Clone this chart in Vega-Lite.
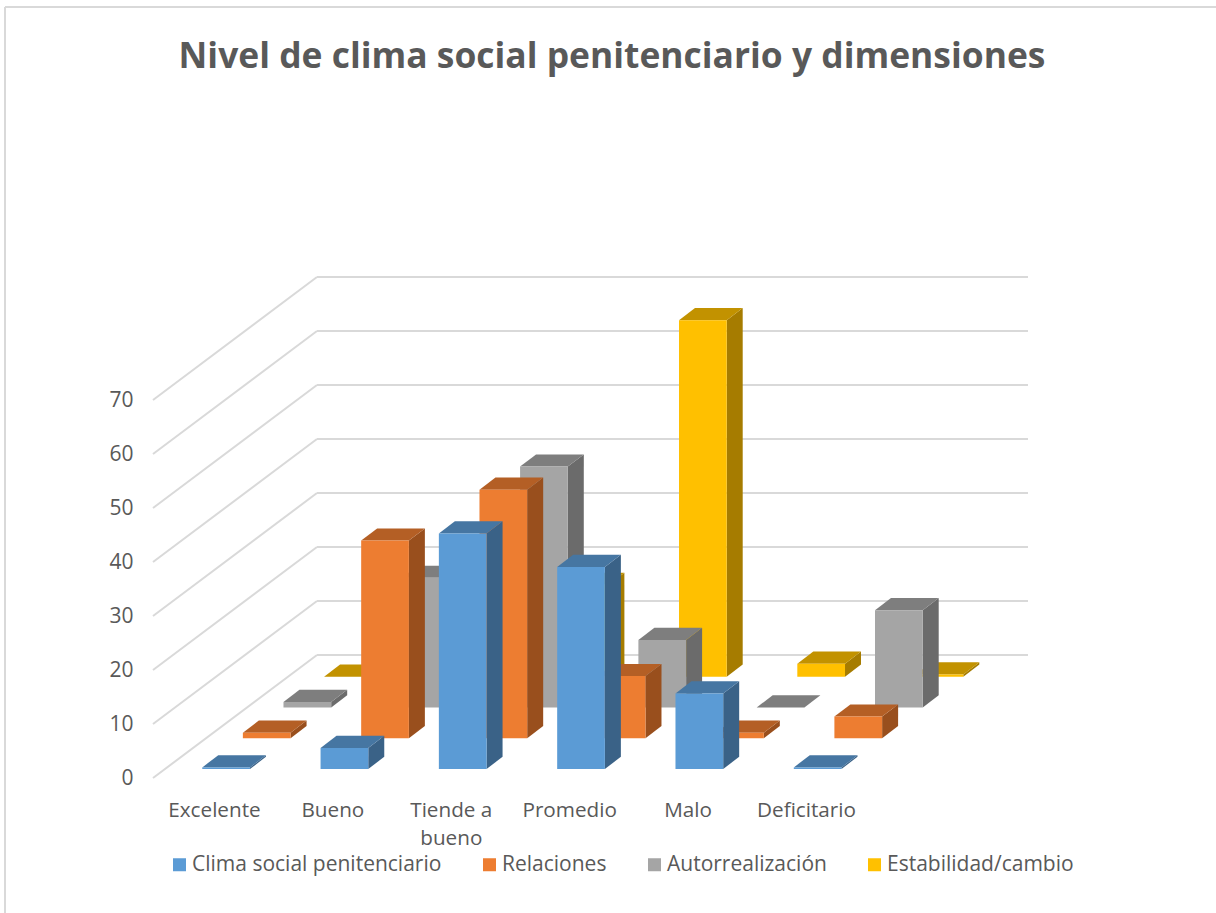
{
"$schema":"https://vega.github.io/schema/vega-lite/v6.json",
"width":1211,"height":906,"autosize":{"type":"none"},
"padding":{"left":5,"top":7,"right":0,"bottom":0},
"background":"white",
"config":{"view":{"stroke":null}},
"title":{"text":"Nivel de clima social penitenciario y dimensiones","font":"Open Sans","fontSize":35.4,"fontWeight":"bold","color":"#595959","anchor":"middle","dx":1.5,"offset":-69},
"datasets":{
"ticks":[{"v":0},{"v":10},{"v":20},{"v":30},{"v":40},{"v":50},{"v":60},{"v":70}],
"barras":[
{"categoria":"Excelente","serie":"Clima social penitenciario","valor":0.3},
{"categoria":"Bueno","serie":"Clima social penitenciario","valor":3.9},
{"categoria":"Tiende a bueno","serie":"Clima social penitenciario","valor":43.6},
{"categoria":"Promedio","serie":"Clima social penitenciario","valor":37.4},
{"categoria":"Malo","serie":"Clima social penitenciario","valor":14.0},
{"categoria":"Deficitario","serie":"Clima social penitenciario","valor":0.3},
{"categoria":"Excelente","serie":"Relaciones","valor":1},
{"categoria":"Bueno","serie":"Relaciones","valor":36.6},
{"categoria":"Tiende a bueno","serie":"Relaciones","valor":46},
{"categoria":"Promedio","serie":"Relaciones","valor":11.5},
{"categoria":"Malo","serie":"Relaciones","valor":1},
{"categoria":"Deficitario","serie":"Relaciones","valor":4},
{"categoria":"Excelente","serie":"Autorrealización","valor":1},
{"categoria":"Bueno","serie":"Autorrealización","valor":24},
{"categoria":"Tiende a bueno","serie":"Autorrealización","valor":44.6},
{"categoria":"Promedio","serie":"Autorrealización","valor":12.5},
{"categoria":"Malo","serie":"Autorrealización","valor":0},
{"categoria":"Deficitario","serie":"Autorrealización","valor":18},
{"categoria":"Excelente","serie":"Estabilidad/cambio","valor":0},
{"categoria":"Bueno","serie":"Estabilidad/cambio","valor":15},
{"categoria":"Tiende a bueno","serie":"Estabilidad/cambio","valor":17},
{"categoria":"Promedio","serie":"Estabilidad/cambio","valor":66},
{"categoria":"Malo","serie":"Estabilidad/cambio","valor":2.4},
{"categoria":"Deficitario","serie":"Estabilidad/cambio","valor":0.4}
]},
"layer":[
{"data":{"name":"ticks"},"mark":{"type":"rule","color":"#d9d9d9","strokeWidth":2},
 "transform":[{"calculate":"datum.v+22.78","as":"vb"}],
 "encoding":{
  "x":{"datum":-0.515,"type":"quantitative","scale":{"domain":[-1.765,8.463],"nice":false,"zero":false},
   "axis":{"title":null,"orient":"bottom","values":[0,1,2,3,4,5],"offset":-113,"domain":false,"ticks":false,"grid":false,"labelPadding":0,"labelBaseline":"top","labelFont":"Open Sans","labelFontSize":20.7,"labelColor":"#595959","labelLineHeight":28,"labelOverlap":false,"labelFlush":false,"labelLimit":300,"labelExpr":"[['Excelente'],['Bueno'],['Tiende a','bueno'],['Promedio'],['Malo'],['Deficitario']][datum.value]"}},
  "x2":{"datum":0.87},
  "y":{"field":"v","type":"quantitative","scale":{"domain":[-25,142.78],"nice":false,"zero":false},
   "axis":{"title":null,"orient":"left","values":[0,10,20,30,40,50,60,70],"offset":-128,"domain":false,"ticks":false,"grid":false,"labelPadding":0,"labelFont":"Open Sans","labelFontSize":21,"labelColor":"#595959"}},
  "y2":{"field":"vb"}}},
{"data":{"name":"ticks"},"mark":{"type":"rule","color":"#d9d9d9","strokeWidth":2},
 "transform":[{"calculate":"datum.v+22.78","as":"vb"}],
 "encoding":{"x":{"datum":0.87,"type":"quantitative","axis":{"title":null}},"x2":{"datum":6.875},"y":{"field":"vb","type":"quantitative","axis":{"title":null}}}},
{"data":{"values":[{"borde":"superior"}]},"mark":{"type":"rule","color":"#d9d9d9","strokeWidth":2},"encoding":{"y":{"datum":142.78,"type":"quantitative","axis":{"title":null}}}},
{"data":{"values":[{"borde":"izquierdo"}]},"mark":{"type":"rule","color":"#d9d9d9","strokeWidth":2},"encoding":{"x":{"datum":-1.765,"type":"quantitative","axis":{"title":null}}}},
{"data":{"name":"barras"},
 "transform":[
  {"calculate":"indexof(['Excelente','Bueno','Tiende a bueno','Promedio','Malo','Deficitario'],datum.categoria)","as":"c"},
  {"calculate":"indexof(['Clima social penitenciario','Relaciones','Autorrealización','Estabilidad/cambio'],datum.serie)","as":"s"},
  {"calculate":"datum.c*0.9992-0.099+0.343*datum.s","as":"xl"},
  {"calculate":"datum.xl+0.403","as":"xr"},
  {"calculate":"1.667+5.7*datum.s","as":"yb"},
  {"calculate":"datum.yb+datum.valor","as":"yt"},
  {"fold":["xl","xr"],"as":["k","xx"]},
  {"calculate":"datum.k=='xl'?0:1","as":"f"},
  {"calculate":"datum.xr+0.135*datum.f","as":"sx"},
  {"calculate":"datum.yb+2.26*datum.f","as":"sy0"},
  {"calculate":"datum.yt+2.26*datum.f","as":"sy1"},
  {"calculate":"datum.xl+0.135*datum.f","as":"tx0"},
  {"calculate":"datum.xr+0.135*datum.f","as":"tx1"}
 ],
 "layer":[
  {"transform":[{"filter":"datum.s==3"}],"mark":{"type":"area","orient":"vertical","color":"#A67C00"},"encoding":{"x":{"field":"sx","type":"quantitative","axis":{"title":null}},"y":{"field":"sy0","type":"quantitative","axis":{"title":null},"stack":null},"y2":{"field":"sy1"},"detail":{"field":"c"}}},
  {"transform":[{"filter":"datum.s==3"}],"mark":{"type":"area","orient":"horizontal","color":"#C29200"},"encoding":{"y":{"field":"sy1","type":"quantitative","axis":{"title":null}},"x":{"field":"tx0","type":"quantitative","axis":{"title":null},"stack":null},"x2":{"field":"tx1"},"detail":{"field":"c"}}},
  {"transform":[{"filter":"datum.s==3 && datum.f==0"}],"mark":{"type":"rect"},"encoding":{"x":{"field":"xl","type":"quantitative","axis":{"title":null}},"x2":{"field":"xr"},"y":{"field":"yb","type":"quantitative","axis":{"title":null}},"y2":{"field":"yt"},"color":{"field":"serie","type":"nominal","scale":{"domain":["Clima social penitenciario","Relaciones","Autorrealización","Estabilidad/cambio"],"range":["#5B9BD5","#ED7D31","#A5A5A5","#FFC000"]},"legend":{"title":null,"orient":"none","legendX":164,"legendY":847,"direction":"horizontal","columns":4,"columnPadding":37,"symbolType":"square","symbolSize":169,"symbolStrokeWidth":0,"labelFont":"Open Sans","labelFontSize":21,"labelColor":"#595959","labelOffset":2,"labelLimit":400}}}},
  {"transform":[{"filter":"datum.s==2"}],"mark":{"type":"area","orient":"vertical","color":"#6B6B6B"},"encoding":{"x":{"field":"sx","type":"quantitative","axis":{"title":null}},"y":{"field":"sy0","type":"quantitative","axis":{"title":null},"stack":null},"y2":{"field":"sy1"},"detail":{"field":"c"}}},
  {"transform":[{"filter":"datum.s==2"}],"mark":{"type":"area","orient":"horizontal","color":"#7E7E7E"},"encoding":{"y":{"field":"sy1","type":"quantitative","axis":{"title":null}},"x":{"field":"tx0","type":"quantitative","axis":{"title":null},"stack":null},"x2":{"field":"tx1"},"detail":{"field":"c"}}},
  {"transform":[{"filter":"datum.s==2 && datum.f==0"}],"mark":{"type":"rect"},"encoding":{"x":{"field":"xl","type":"quantitative","axis":{"title":null}},"x2":{"field":"xr"},"y":{"field":"yb","type":"quantitative","axis":{"title":null}},"y2":{"field":"yt"},"color":{"field":"serie","type":"nominal"}}},
  {"transform":[{"filter":"datum.s==1"}],"mark":{"type":"area","orient":"vertical","color":"#994F1D"},"encoding":{"x":{"field":"sx","type":"quantitative","axis":{"title":null}},"y":{"field":"sy0","type":"quantitative","axis":{"title":null},"stack":null},"y2":{"field":"sy1"},"detail":{"field":"c"}}},
  {"transform":[{"filter":"datum.s==1"}],"mark":{"type":"area","orient":"horizontal","color":"#B45F25"},"encoding":{"y":{"field":"sy1","type":"quantitative","axis":{"title":null}},"x":{"field":"tx0","type":"quantitative","axis":{"title":null},"stack":null},"x2":{"field":"tx1"},"detail":{"field":"c"}}},
  {"transform":[{"filter":"datum.s==1 && datum.f==0"}],"mark":{"type":"rect"},"encoding":{"x":{"field":"xl","type":"quantitative","axis":{"title":null}},"x2":{"field":"xr"},"y":{"field":"yb","type":"quantitative","axis":{"title":null}},"y2":{"field":"yt"},"color":{"field":"serie","type":"nominal"}}},
  {"transform":[{"filter":"datum.s==0"}],"mark":{"type":"area","orient":"vertical","color":"#3A6287"},"encoding":{"x":{"field":"sx","type":"quantitative","axis":{"title":null}},"y":{"field":"sy0","type":"quantitative","axis":{"title":null},"stack":null},"y2":{"field":"sy1"},"detail":{"field":"c"}}},
  {"transform":[{"filter":"datum.s==0"}],"mark":{"type":"area","orient":"horizontal","color":"#4676A2"},"encoding":{"y":{"field":"sy1","type":"quantitative","axis":{"title":null}},"x":{"field":"tx0","type":"quantitative","axis":{"title":null},"stack":null},"x2":{"field":"tx1"},"detail":{"field":"c"}}},
  {"transform":[{"filter":"datum.s==0 && datum.f==0"}],"mark":{"type":"rect"},"encoding":{"x":{"field":"xl","type":"quantitative","axis":{"title":null}},"x2":{"field":"xr"},"y":{"field":"yb","type":"quantitative","axis":{"title":null}},"y2":{"field":"yt"},"color":{"field":"serie","type":"nominal"}}}
 ]}
]
}
